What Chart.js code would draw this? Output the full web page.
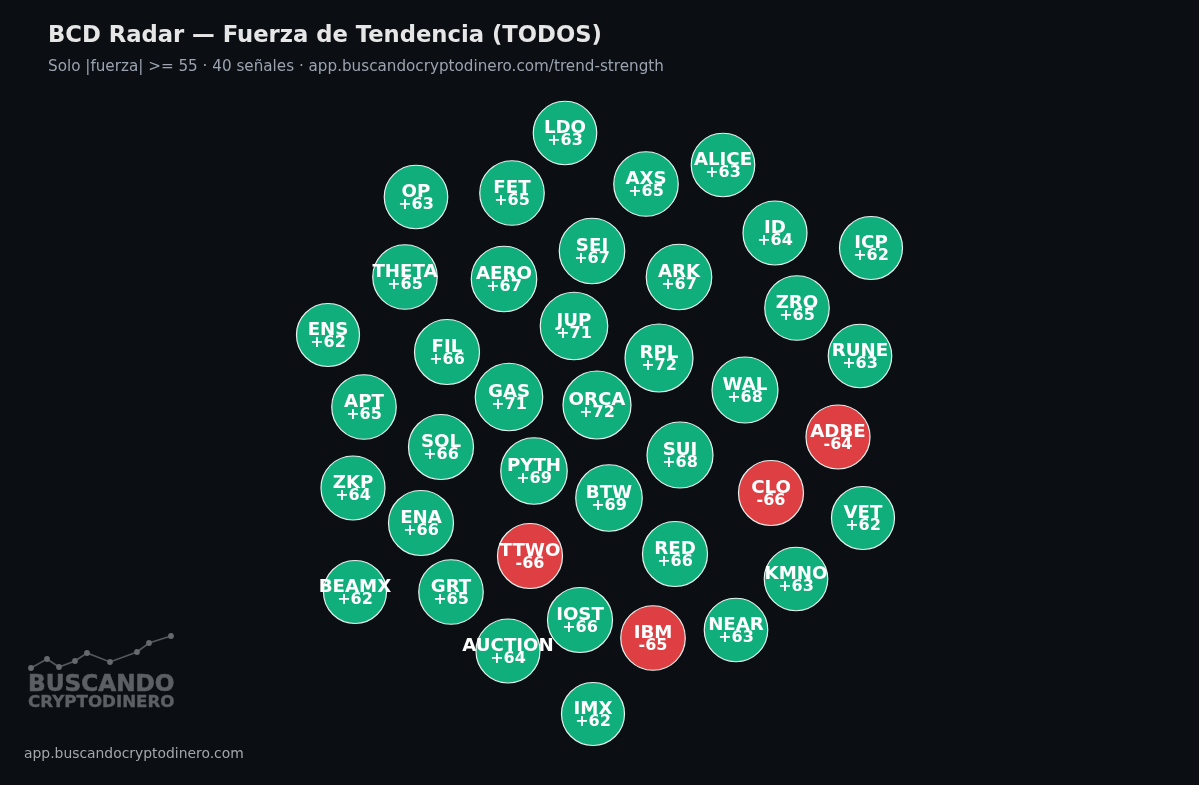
<!DOCTYPE html>
<html lang="es">
<head>
<meta charset="utf-8">
<title>BCD Radar</title>
<script src="https://cdn.jsdelivr.net/npm/chart.js@4"></script>
<style>
    html, body { margin: 0; padding: 0; background: #0b0f14; overflow: hidden; }
    #wrap { position: relative; width: 1199px; height: 785px; font-family: "DejaVu Sans", sans-serif; }
    #wrap div { position: absolute; white-space: nowrap; }
    #title { left: 48px; top: 20px; font-size: 22.7px; line-height: 28px; font-weight: bold; color: #e6e6e6; }
    #subtitle { left: 48px; top: 56px; font-size: 15.2px; line-height: 20px; color: #9ca3af; }
    #logo1 { left: 28px; top: 669px; font-size: 23.2px; line-height: 28px; font-weight: bold; color: #5c5f63; -webkit-text-stroke: 0.6px #5c5f63; }
    #logo2 { left: 28px; top: 691px; font-size: 16.7px; line-height: 20px; font-weight: bold; color: #5c5f63; -webkit-text-stroke: 0.4px #5c5f63; }
    #footer { left: 24px; top: 744px; font-size: 13.9px; line-height: 18px; color: #a3a6aa; }
</style>
</head>
<body>
<div id="wrap">
    <canvas id="radarChart" width="1199" height="785"></canvas>
    <div id="title">BCD Radar — Fuerza de Tendencia (TODOS)</div>
    <div id="subtitle">Solo |fuerza| &gt;= 55 · 40 señales · app.buscandocryptodinero.com/trend-strength</div>
    <div id="logo1">BUSCANDO</div>
    <div id="logo2">CRYPTODINERO</div>
    <div id="footer">app.buscandocryptodinero.com</div>
</div>
<script>
const symbols = ['LDO','ALICE','AXS','FET','OP','ID','ICP','SEI','ARK','AERO','THETA','ZRO','JUP','ENS','FIL','RUNE','RPL','WAL','GAS','ORCA','APT','ADBE','SOL','SUI','PYTH','CLO','ZKP','BTW','VET','ENA','TTWO','RED','KMNO','BEAMX','GRT','IOST','IBM','NEAR','AUCTION','IMX'];
const strength = [63,63,65,65,63,64,62,67,67,67,65,65,71,62,66,63,72,68,71,72,65,-64,66,68,69,-66,64,69,62,66,-66,66,63,62,65,66,-65,63,64,62];
const posX = [565,723,646,512,416,775,871,592,679,504,405,797,574,328,447,860,659,745,509,597,364,838,441,680,534,771,353,609,863,421,530,675,796,355,451,580,653,736,508,593];
const posY = [133,165,184,193,197,233,248,251,277,279,277,308,326,335,352,356,358,390,397,405,407,437,447,455,471,493,488,498,518,523,556,554,579,592,592,620,638,630,651,714];

// little sparkline above the logo
const logoX = [31,47,59,75,87,110,137,149,171];
const logoY = [668,659,667,661,653,662,652,643,636];

const ctx = document.getElementById('radarChart').getContext('2d');

// Write symbol and strength on top of each bubble
const bubbleLabels = {
    id: 'bubbleLabels',
    afterDatasetsDraw(chart) {
        const c = chart.ctx;
        const xScale = chart.scales.x;
        const yScale = chart.scales.y;
        c.save();
        c.textAlign = 'center';
        c.textBaseline = 'middle';
        c.fillStyle = '#ffffff';
        symbols.forEach((name, i) => {
            const x = xScale.getPixelForValue(posX[i]);
            const y = yScale.getPixelForValue(posY[i]);
            const sign = strength[i] > 0 ? '+' : '';
            c.font = 'bold 18.2px "DejaVu Sans"';
            c.fillText(name, x, y - 5);
            c.font = 'bold 16px "DejaVu Sans"';
            c.fillText(sign + strength[i], x, y + 8);
        });
        c.restore();
    }
};

new Chart(ctx, {
    data: {
        datasets: [
            {
                type: 'bubble',
                data: symbols.map((s, i) => ({ x: posX[i], y: posY[i], r: 16 + Math.abs(strength[i]) * 0.25 })),
                backgroundColor: strength.map(v => v > 0 ? '#10ae7a' : '#dd3f42'),
                borderColor: '#e8f2ee',
                borderWidth: 1.2
            },
            {
                type: 'line',
                data: logoX.map((x, i) => ({ x: x, y: logoY[i] })),
                borderColor: '#55585c',
                borderWidth: 1.6,
                backgroundColor: '#66696d',
                pointRadius: 2.9,
                pointBorderWidth: 0,
                tension: 0
            }
        ]
    },
    options: {
        responsive: false,
        devicePixelRatio: 1,
        animation: false,
        layout: { padding: 0, autoPadding: false },
        plugins: {
            legend: { display: false },
            tooltip: { enabled: false }
        },
        scales: {
            x: { type: 'linear', display: false, min: 0, max: 1199 },
            y: { type: 'linear', display: false, min: 0, max: 785, reverse: true }
        }
    },
    plugins: [bubbleLabels]
});
</script>
</body>
</html>
